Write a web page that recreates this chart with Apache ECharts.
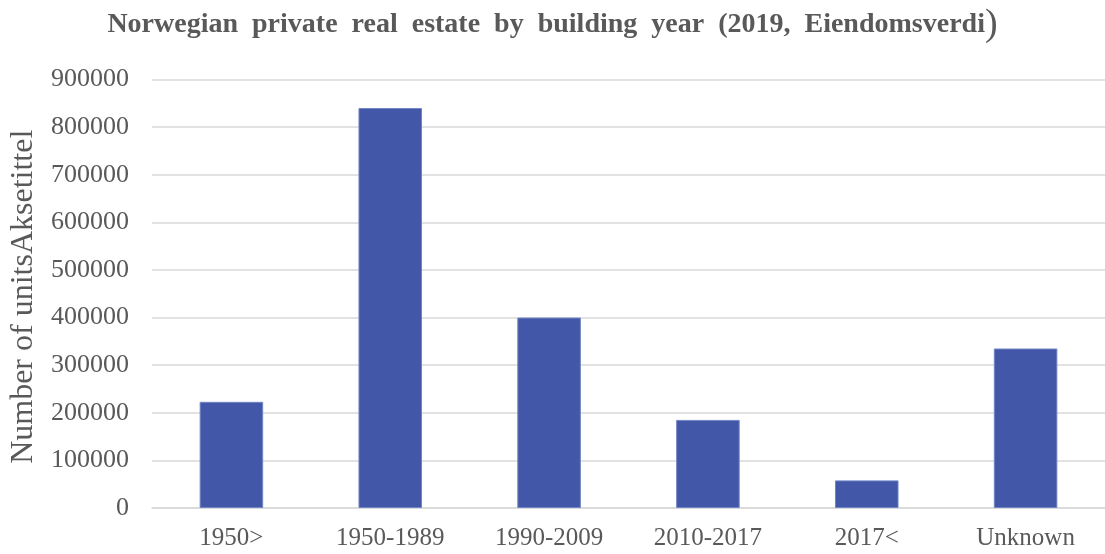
<!DOCTYPE html>
<html>
<head>
<meta charset="utf-8">
<script src="https://cdn.jsdelivr.net/npm/echarts@6/dist/echarts.min.js"></script>
<style>html,body{margin:0;padding:0;background:#fff}#c{width:1105px;height:554px}</style>
</head>
<body>
<div id="c"></div>
<script>
const categories = ['1950>', '1950-1989', '1990-2009', '2010-2017', '2017<', 'Unknown'];
const units = [223000, 840000, 400000, 185000, 58000, 335000];
const yTicks = { min: 0, max: 900000, interval: 100000 };
const titleText = 'Norwegian  private  real  estate  by  building  year  (2019,  Eiendomsverdi';
const yName = 'Number of unitsAksetittel';

const chart = echarts.init(document.getElementById('c'), null, { renderer: 'canvas' });
const serif = '"Liberation Serif", "Times New Roman", serif';
chart.setOption({
  animation: false,
  backgroundColor: '#ffffff',
  title: {
    text: '{a|' + titleText + '}{b|)}',
    left: 'center',
    top: 1,
    textStyle: {
      rich: {
        a: { fontFamily: serif, fontWeight: 'bold', fontSize: 28, color: '#595959' },
        b: { fontFamily: serif, fontWeight: 'normal', fontSize: 38, color: '#595959' }
      }
    }
  },
  grid: { left: 151, right: -5, top: 79.5, bottom: 46, containLabel: false },
  xAxis: {
    type: 'category',
    data: categories,
    axisLine: { lineStyle: { color: '#d9d9d9', width: 1.5 } },
    axisTick: { show: false },
    axisLabel: { fontFamily: serif, fontSize: 25, color: '#595959', margin: 18 }
  },
  yAxis: {
    type: 'value',
    min: yTicks.min, max: yTicks.max, interval: yTicks.interval,
    name: yName,
    nameLocation: 'middle',
    nameGap: 112,
    nameTextStyle: { fontFamily: serif, fontSize: 32, color: '#595959', padding: [0, 6, 0, 0] },
    axisLine: { show: false },
    axisTick: { show: false },
    splitLine: { lineStyle: { color: '#d9d9d9', width: 1.5 } },
    axisLabel: { fontFamily: serif, fontSize: 26, color: '#595959', margin: 23, formatter: v => String(v) }
  },
  series: [{
    type: 'bar',
    data: units,
    barWidth: '40%',
    itemStyle: { color: '#4257a7', borderColor: '#7184c4', borderWidth: 1 }
  }]
});
</script>
</body>
</html>
